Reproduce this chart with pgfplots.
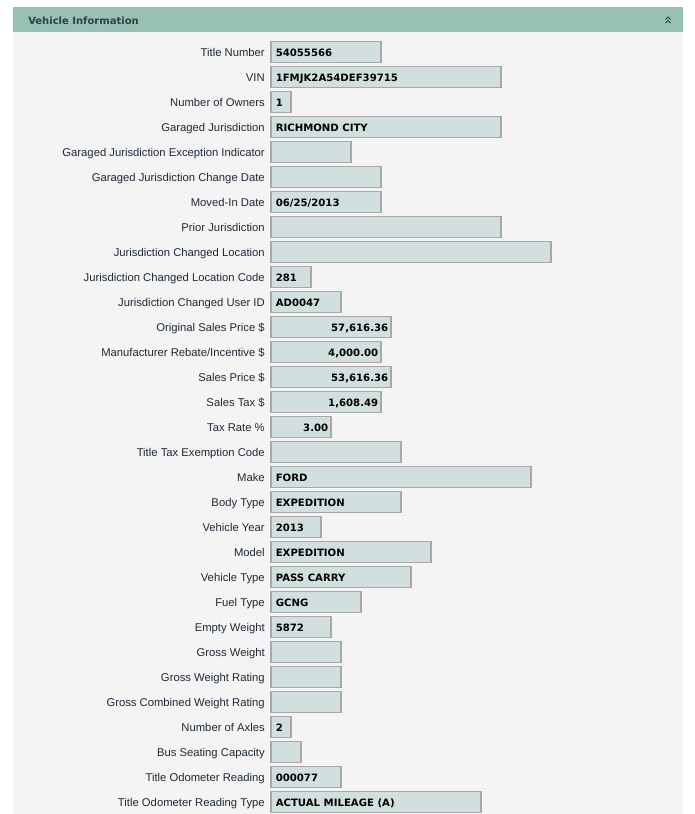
\documentclass[border=0pt]{standalone}
\usepackage{pgfplots}
\usepackage{pgfplotstable}
\pgfplotsset{compat=1.18}
\usepackage{fontspec}
\setmainfont{Liberation Sans}
\newfontfamily\valfont{DejaVu Sans}

\definecolor{hdr}{HTML}{97C1B5}
\definecolor{panel}{HTML}{F4F4F4}
\definecolor{boxfill}{HTML}{D1DFDF}
\definecolor{boxline}{HTML}{A8A8A8}
\definecolor{lbl}{HTML}{1E2A38}
\definecolor{hdrtxt}{HTML}{2F4040}

\pgfplotstableread[col sep=semicolon]{
y;w;label
52;110;Title Number
77;230;VIN
102;20;Number of Owners
127;230;Garaged Jurisdiction
152;80;Garaged Jurisdiction Exception Indicator
177;110;Garaged Jurisdiction Change Date
202;110;Moved-In Date
227;230;Prior Jurisdiction
252;280;Jurisdiction Changed Location
277;40;Jurisdiction Changed Location Code
302;70;Jurisdiction Changed User ID
327;120;Original Sales Price \$
352;110;Manufacturer Rebate/Incentive \$
377;120;Sales Price \$
402;110;Sales Tax \$
427;60;Tax Rate \%
452;130;Title Tax Exemption Code
477;260;Make
502;130;Body Type
527;50;Vehicle Year
552;160;Model
577;140;Vehicle Type
602;90;Fuel Type
627;60;Empty Weight
652;70;Gross Weight
677;70;Gross Weight Rating
702;70;Gross Combined Weight Rating
727;20;Number of Axles
752;30;Bus Seating Capacity
777;70;Title Odometer Reading
802;210;Title Odometer Reading Type
}\fields

\pgfplotstableread[col sep=semicolon]{
y;val
52;54055566
77;1FMJK2A54DEF39715
102;1
127;RICHMOND CITY
202;06/25/2013
277;281
302;AD0047
477;FORD
502;EXPEDITION
527;2013
552;EXPEDITION
577;PASS CARRY
602;GCNG
627;5872
727;2
777;000077
802;ACTUAL MILEAGE (A)
}\leftvals

\pgfplotstableread[col sep=semicolon]{
y;x;val
327;117.5;57,616.36
352;107.5;4,000.00
377;117.5;53,616.36
402;107.5;1,608.49
427;57.5;3.00
}\rightvals

\begin{document}
\begin{tikzpicture}
\begin{axis}[
  width=521.25pt, height=610.5pt, scale only axis,
  xmin=-271, xmax=424, ymin=0, ymax=814, y dir=reverse,
  hide axis, clip=false,
]
% background, panel and header
\fill[white] (axis cs:-271,0) rectangle (axis cs:424,814);
\fill[panel] (axis cs:-258,7) rectangle (axis cs:412,814);
\fill[hdr] (axis cs:-258,7) rectangle (axis cs:412,32);
\node[anchor=base west, inner sep=0pt, text=hdrtxt, font=\valfont\bfseries\fontsize{7.5}{9}\selectfont]
  at (axis cs:-243,24) {Vehicle Information};
\draw[hdrtxt, line width=0.7pt] (axis cs:394.5,19.5) -- (axis cs:397,17) -- (axis cs:399.5,19.5);
\draw[hdrtxt, line width=0.7pt] (axis cs:394.5,23) -- (axis cs:397,20.5) -- (axis cs:399.5,23);

% field boxes
\addplot[xbar, bar width=21, fill=boxfill, draw=boxline, line width=0.9pt]
  table[x=w, y=y] {\fields};

% labels
\addplot[draw=none, mark=none, nodes near coords, point meta=explicit symbolic,
  every node near coord/.append style={anchor=base east, inner sep=0pt, yshift=-3pt,
    text=lbl, font=\fontsize{8.45}{10}\selectfont}]
  table[x expr=-6, y=y, meta=label] {\fields};

% left-aligned values
\addplot[draw=none, mark=none, nodes near coords, point meta=explicit symbolic,
  every node near coord/.append style={anchor=base west, inner sep=0pt, yshift=-3pt,
    text=black, font=\valfont\bfseries\fontsize{7.6}{9}\selectfont}]
  table[x expr=4.5, y=y, meta=val] {\leftvals};

% right-aligned values
\addplot[draw=none, mark=none, nodes near coords, point meta=explicit symbolic,
  every node near coord/.append style={anchor=base east, inner sep=0pt, yshift=-3pt,
    text=black, font=\valfont\bfseries\fontsize{7.6}{9}\selectfont}]
  table[x=x, y=y, meta=val] {\rightvals};
\end{axis}
\end{tikzpicture}
\end{document}
